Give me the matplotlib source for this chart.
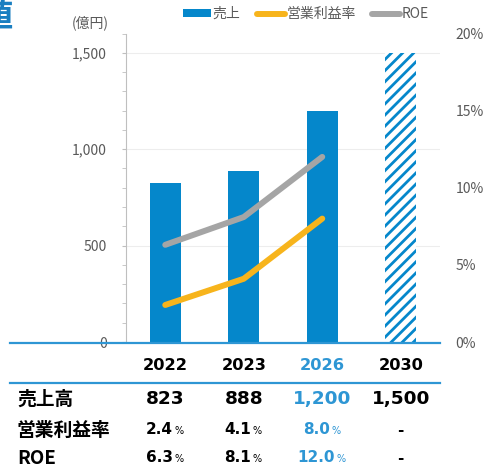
import matplotlib
matplotlib.use("Agg")
import matplotlib.pyplot as plt
from matplotlib.lines import Line2D
from matplotlib.patches import Patch
from matplotlib.ticker import MultipleLocator, FixedLocator, FuncFormatter
import matplotlib.transforms as mtransforms

# ---- data ----
years = ["2022", "2023", "2026", "2030"]
sales = [823, 888, 1200, 1500]          # 億円
op_margin = [2.4, 4.1, 8.0]             # %
roe = [6.3, 8.1, 12.0]                  # %
sales_labels = ["823", "888", "1,200", "1,500"]
margin_labels = ["2.4", "4.1", "8.0", "-"]
roe_labels = ["6.3", "8.1", "12.0", "-"]
row_labels = ["売上高", "営業利益率", "ROE"]
highlight_col = 2
target_col = 3

BLUE = "#0587CB"
LBLUE = "#2E96D4"
YELLOW = "#F7B41C"
GRAY = "#A5A5A5"
TXT = "#595959"
CJK = ["Noto Sans CJK JP", "DejaVu Sans"]

plt.rcParams["hatch.linewidth"] = 2.0
plt.rcParams["font.family"] = CJK

W, H = 484, 467
fig = plt.figure(figsize=(W / 100, H / 100), dpi=100)

def fx(px):
    return px / W

def fy(py):
    return 1 - py / H

ax = fig.add_axes([fx(126), fy(342), fx(440) - fx(126), fy(33.5) - fy(342)])
x = list(range(len(years)))

for i, v in enumerate(sales):
    if i == target_col:
        ax.bar(i, v, width=0.4, facecolor="white", edgecolor=BLUE, hatch="///",
               linewidth=0, zorder=2)
    else:
        ax.bar(i, v, width=0.4, color=BLUE, zorder=2)

ax.set_xlim(-0.5, len(years) - 0.5)
ax.set_ylim(0, 1600)
ax.yaxis.set_major_locator(FixedLocator([0, 500, 1000, 1500]))
ax.yaxis.set_minor_locator(MultipleLocator(100))
ax.yaxis.set_major_formatter(FuncFormatter(lambda v, p: f"{int(v):,}"))
ax.tick_params(axis="y", which="both", length=3, color="#BFBFBF", direction="out",
               labelsize=10, labelcolor=TXT, pad=11)
ax.tick_params(axis="x", bottom=False, labelbottom=False)
for v in [500, 1000, 1500]:
    ax.axhline(v, color="#EDEDED", linewidth=0.8, zorder=0)
for s in ["top", "right", "bottom"]:
    ax.spines[s].set_visible(False)
ax.spines["left"].set_color("#BFBFBF")
ax.spines["left"].set_linewidth(0.8)

ax2 = ax.twinx()
ax2.set_ylim(0, 20)
ax2.yaxis.set_major_locator(FixedLocator([0, 5, 10, 15, 20]))
ax2.yaxis.set_major_formatter(FuncFormatter(lambda v, p: f"{int(v)}%"))
ax2.tick_params(axis="y", length=0, labelsize=10, labelcolor=TXT, pad=11)
for s in ax2.spines.values():
    s.set_visible(False)
ax2.plot(x[:len(roe)], roe, color=GRAY, linewidth=4.3, solid_capstyle="round",
         solid_joinstyle="round", zorder=3)
ax2.plot(x[:len(op_margin)], op_margin, color=YELLOW, linewidth=4.3,
         solid_capstyle="round", solid_joinstyle="round", zorder=3)

# unit label
fig.text(fx(90), fy(23), "(億円)", ha="center", va="center", fontsize=10, color=TXT)

# cropped title glyph (partly outside the canvas, as in the reference)
fig.text(fx(13), fy(17), "値", ha="right", va="center", fontsize=24,
         fontweight="bold", color="#1A7FC1")

# legend
handles = [Patch(facecolor=BLUE, edgecolor="none"),
           Line2D([], [], color=YELLOW, linewidth=4.3, solid_capstyle="round"),
           Line2D([], [], color=GRAY, linewidth=4.3, solid_capstyle="round")]
leg = fig.legend(handles, ["売上", "営業利益率", "ROE"], loc="center",
                 bbox_to_anchor=(fx(306), fy(14)), ncol=3, frameon=False,
                 fontsize=10, handlelength=2.0, handleheight=0.5,
                 handletextpad=0.1, columnspacing=1.2, borderaxespad=0)
for t in leg.get_texts():
    t.set_color(TXT)

# table lines
fig.add_artist(Line2D([fx(10), fx(440)], [fy(343), fy(343)], color=LBLUE, linewidth=1.6))
fig.add_artist(Line2D([fx(10), fx(440)], [fy(383), fy(383)], color=LBLUE, linewidth=1.6))

# table text
tr = mtransforms.blended_transform_factory(ax.transData, fig.transFigure)
for i, yr in enumerate(years):
    c = LBLUE if i == highlight_col else "black"
    fig.text(i, fy(365), yr, transform=tr, ha="center", va="center", fontsize=11.7,
             fontweight="bold", color=c, family="DejaVu Sans")
    fig.text(i, fy(399), sales_labels[i], transform=tr, ha="center", va="center",
             fontsize=13.3, fontweight="bold", color=c, family="DejaVu Sans")

for row_y, labels in [(430, margin_labels), (458, roe_labels)]:
    for i, s in enumerate(labels):
        c = LBLUE if i == highlight_col else "black"
        if s == "-":
            fig.text(i, fy(row_y), s, transform=tr, ha="center", va="center",
                     fontsize=11, fontweight="bold", color=c, family="DejaVu Sans")
        else:
            off = mtransforms.offset_copy(tr, fig=fig, x=-6, y=0, units="dots")
            t = fig.text(i, fy(row_y), s, transform=off, ha="center", va="center",
                         fontsize=11, fontweight="bold", color=c, family="DejaVu Sans")
            ax.annotate("%", xy=(1, 0), xycoords=t, xytext=(1, 1), textcoords="offset points",
                        ha="left", va="bottom", fontsize=7, color=c,
                        family="DejaVu Sans", annotation_clip=False)

for lab, row_y in zip(row_labels, [399, 430, 458]):
    fig.text(fx(17), fy(row_y), lab, ha="left", va="center", fontsize=13.5,
             fontweight="bold", color="black", family=CJK)

fig.savefig("out.png", dpi=100)
